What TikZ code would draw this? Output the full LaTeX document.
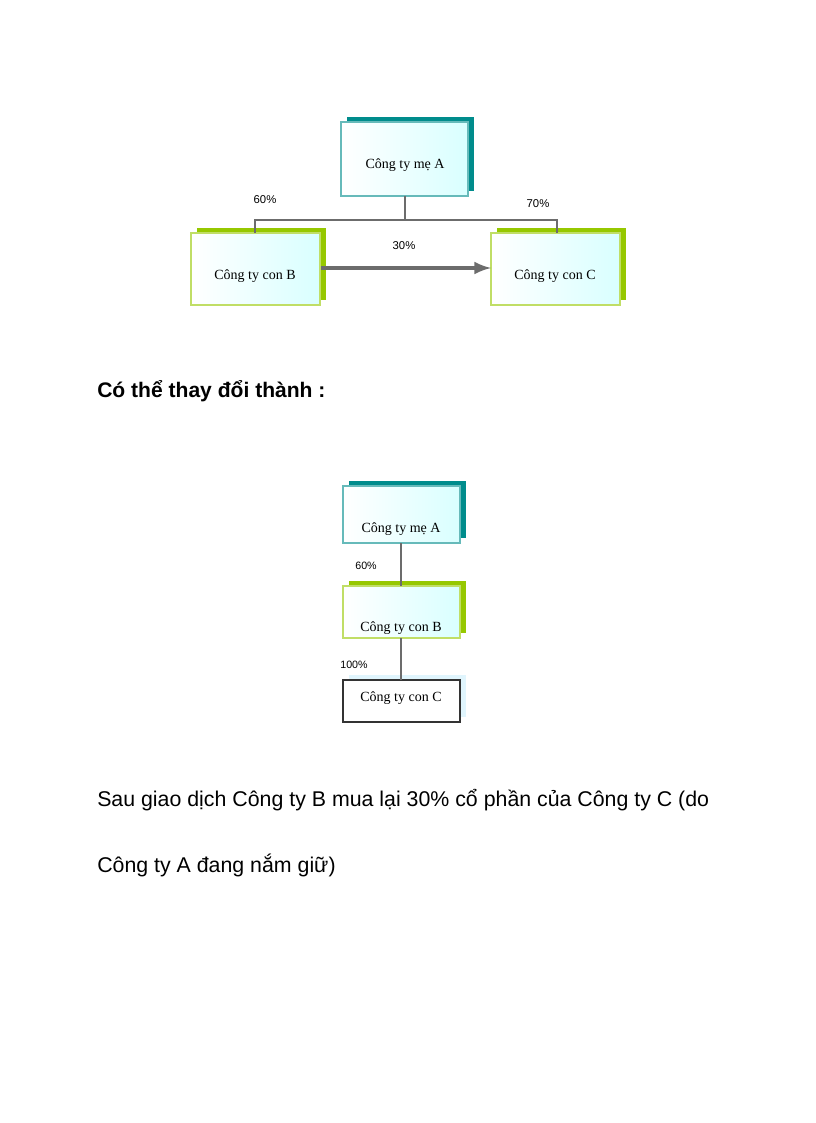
\documentclass[tikz,border=0pt]{standalone}
\usepackage{fontspec}
\setmainfont{Liberation Serif}
\newfontfamily\arial{Liberation Sans}
\begin{document}
\begin{tikzpicture}[x=0.75pt,y=-0.75pt,
 bx/.style={draw=#1!60,line width=0.8pt},
 lab/.style={font=\arial\fontsize{8.5}{10}\selectfont},
 txt/.style={font=\fontsize{10.5}{12}\selectfont},
 ln/.style={draw=gray!85!black,line width=2.2pt}]
\useasboundingbox (0,0) rectangle (816,1123);
\definecolor{teal1}{RGB}{0,140,140}
\definecolor{lime1}{RGB}{150,200,0}
% top diagram
\fill[teal1] (347,117) rectangle (474,191);
\fill[lime1] (197,228) rectangle (326,300);
\fill[lime1] (497,228) rectangle (626,300);
\path[bx=teal1,left color=white,right color=cyan!15] (341,122) rectangle (468,196);
\path[bx=lime1,left color=white,right color=cyan!15] (191,233) rectangle (320,305);
\path[bx=lime1,left color=white,right color=cyan!15] (491,233) rectangle (620,305);
\node[txt] (A) at (405,165) {Công ty mẹ A};
\node[txt] (B) at (255,276) {Công ty con B};
\node[txt] (C) at (555,276) {Công ty con C};
\coordinate (a0) at (405,196);
\coordinate (b0) at (255,233);
\coordinate (c0) at (557,233);
\draw[ln] (a0) -- (405,220) (b0) |- (405,220) -| (c0);
\coordinate (bR) at (321,268); \coordinate (cL) at (491,268);
\draw[ln,line width=3.2pt,-latex] (bR) -- (cL);
\node[lab] at (265,200) {60\%};
\node[lab] at (538,204) {70\%};
\node[lab] at (404,246) {30\%};
\node[inner sep=0pt,font=\arial\bfseries\fontsize{15.8}{18}\selectfont,anchor=west] at (97,391) {Có thể thay đổi thành :};
% second diagram
\fill[teal1] (349,481) rectangle (466,538);
\fill[lime1] (349,581) rectangle (466,633);
\fill[cyan!12] (349,675) rectangle (466,717);
\path[bx=teal1,left color=white,right color=cyan!15] (343,486) rectangle (460,543);
\path[bx=lime1,left color=white,right color=cyan!15] (343,586) rectangle (460,638);
\path[draw=black!80,line width=1pt,fill=white] (343,680) rectangle (460,722);
\node[txt] (A2) at (401,529) {Công ty mẹ A};
\node[txt] (B2) at (401,628) {Công ty con B};
\node[txt] (C2) at (401,698) {Công ty con C};
\coordinate (a2) at (401,543); \coordinate (b2t) at (401,586);
\coordinate (b2) at (401,638); \coordinate (c2) at (401,680);
\draw[ln,line width=2pt] (a2) -- (b2t) (b2) -- (c2);
\node[lab,font=\arial\fontsize{8}{9}\selectfont] at (366,566) {60\%};
\node[lab,font=\arial\fontsize{8}{9}\selectfont] at (354,665) {100\%};
\node[inner sep=0pt,font=\arial\fontsize{16}{18}\selectfont,anchor=west] at (97,800) {Sau giao dịch Công ty B mua lại 30\% cổ phần của Công ty C (do};
\node[inner sep=0pt,font=\arial\fontsize{16}{18}\selectfont,anchor=west] at (97,865) {Công ty A đang nắm giữ)};
\end{tikzpicture}
\end{document}
